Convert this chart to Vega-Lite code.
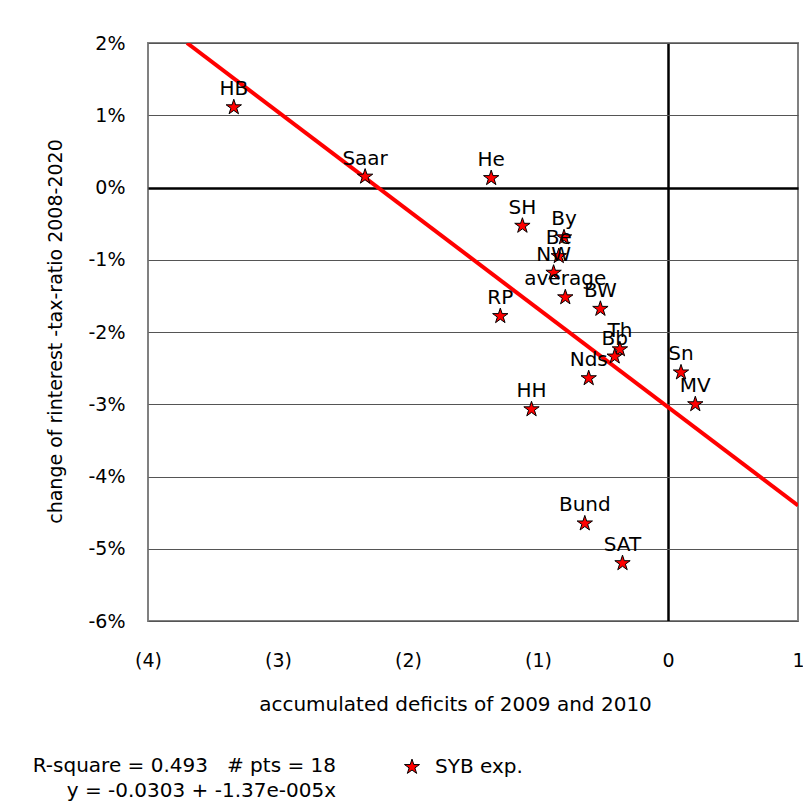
{
  "$schema": "https://vega.github.io/schema/vega-lite/v6.json",
  "width": 650,
  "height": 578,
  "autosize": {"type": "none"},
  "padding": {"left": 148, "top": 43, "right": 5, "bottom": 188},
  "background": "white",
  "config": {
    "font": "DejaVu Sans",
    "view": {"stroke": "#808080", "strokeWidth": 2}
  },
  "title": {
    "text": ["R-square = 0.493\u00a0\u00a0\u00a0# pts = 18", "y = -0.0303 + -1.37e-005x"],
    "orient": "bottom",
    "anchor": "start",
    "frame": "group",
    "align": "right",
    "dx": 188,
    "offset": -21,
    "fontSize": 20,
    "fontWeight": "normal",
    "color": "black",
    "lineHeight": 25,
    "font": "DejaVu Sans"
  },
  "datasets": {
    "states": [
      {"label": "HB", "x": -3.34, "y": 0.0111, "series": "SYB exp."},
      {"label": "Saar", "x": -2.33, "y": 0.0015, "series": "SYB exp."},
      {"label": "He", "x": -1.36, "y": 0.0013, "series": "SYB exp."},
      {"label": "SH", "x": -1.12, "y": -0.0053, "series": "SYB exp."},
      {"label": "By", "x": -0.80, "y": -0.0069, "series": "SYB exp."},
      {"label": "Be", "x": -0.84, "y": -0.0095, "series": "SYB exp."},
      {"label": "NW", "x": -0.88, "y": -0.0118, "series": "SYB exp."},
      {"label": "average", "x": -0.79, "y": -0.0152, "series": "SYB exp."},
      {"label": "BW", "x": -0.52, "y": -0.0168, "series": "SYB exp."},
      {"label": "RP", "x": -1.29, "y": -0.0178, "series": "SYB exp."},
      {"label": "Th", "x": -0.37, "y": -0.0224, "series": "SYB exp."},
      {"label": "Bb", "x": -0.41, "y": -0.0234, "series": "SYB exp."},
      {"label": "Nds", "x": -0.61, "y": -0.0264, "series": "SYB exp."},
      {"label": "Sn", "x": 0.10, "y": -0.0256, "series": "SYB exp."},
      {"label": "MV", "x": 0.21, "y": -0.0300, "series": "SYB exp."},
      {"label": "HH", "x": -1.05, "y": -0.0307, "series": "SYB exp."},
      {"label": "Bund", "x": -0.64, "y": -0.0465, "series": "SYB exp."},
      {"label": "SAT", "x": -0.35, "y": -0.0520, "series": "SYB exp."}
    ],
    "fit": [
      {"x": -3.70, "y": 0.0200},
      {"x": 1.0, "y": -0.0440}
    ]
  },
  "data": {"name": "states"},
  "encoding": {
    "x": {
      "field": "x",
      "type": "quantitative",
      "scale": {"domain": [-4, 1], "nice": false, "zero": false},
      "axis": {
        "values": [-4, -3, -2, -1, 0, 1],
        "labelExpr": "datum.value < 0 ? '(' + format(-datum.value, 'd') + ')' : format(datum.value, 'd')",
        "ticks": false,
        "domain": false,
        "labelFlush": false,
        "labelPadding": 30,
        "labelFontSize": 19,
        "labelColor": "black",
        "labelFont": "DejaVu Sans",
        "grid": true,
        "gridColor": {"condition": {"test": "datum.value === 0", "value": "black"}, "value": "transparent"},
        "gridWidth": 2.5,
        "gridOpacity": 1,
        "title": "accumulated deficits of 2009 and 2010",
        "titleFontSize": 20,
        "titleFontWeight": "normal",
        "titleColor": "black",
        "titleFont": "DejaVu Sans",
        "titleX": 307,
        "titleY": 83,
        "titleBaseline": "middle",
        "titleAlign": "center"
      }
    },
    "y": {
      "field": "y",
      "type": "quantitative",
      "scale": {"domain": [-0.06, 0.02], "nice": false, "zero": false},
      "axis": {
        "values": [-0.06, -0.05, -0.04, -0.03, -0.02, -0.01, 0, 0.01, 0.02],
        "labelExpr": "(datum.value < -0.0001 ? '-' : '') + format(abs(datum.value) * 100, '.0f') + '%'",
        "ticks": false,
        "domain": false,
        "labelPadding": 23,
        "labelFontSize": 19,
        "labelColor": "black",
        "labelFont": "DejaVu Sans",
        "grid": true,
        "gridColor": {"condition": {"test": "abs(datum.value) < 0.0001", "value": "black"}, "value": "#555555"},
        "gridWidth": {"condition": {"test": "abs(datum.value) < 0.0001", "value": 2.5}, "value": 1.2},
        "gridOpacity": 1,
        "title": "change of rinterest -tax-ratio 2008-2020",
        "titleFontSize": 19,
        "titleFontWeight": "normal",
        "titleColor": "black",
        "titleFont": "DejaVu Sans",
        "titleX": -93,
        "titleY": 288,
        "titleAngle": -90,
        "titleBaseline": "middle",
        "titleAlign": "center"
      }
    }
  },
  "layer": [
    {
      "data": {"name": "fit"},
      "mark": {"type": "line", "color": "#ff0000", "strokeWidth": 4, "clip": true},
      "encoding": {}
    },
    {
      "mark": {"type": "point", "filled": true, "stroke": "black", "strokeWidth": 1, "size": 260, "opacity": 1},
      "encoding": {
        "color": {
          "field": "series",
          "type": "nominal",
          "scale": {"domain": ["SYB exp."], "range": ["#ff0000"]},
          "legend": {
            "orient": "none",
            "legendX": 254,
            "legendY": 714,
            "title": null,
            "padding": 0,
            "labelFontSize": 20,
            "labelColor": "black",
            "labelFont": "DejaVu Sans",
            "labelOffset": 13,
            "symbolSize": 250,
            "symbolStrokeColor": "black",
            "symbolStrokeWidth": 1,
            "symbolOpacity": 1,
            "encode": {"symbols": {"update": {"stroke": {"value": "black"}, "strokeWidth": {"value": 1}}}}
          }
        },
        "shape": {
          "field": "series",
          "type": "nominal",
          "scale": {"domain": ["SYB exp."], "range": ["M0,-1L0.225,-0.309L0.951,-0.309L0.363,0.118L0.588,0.809L0,0.382L-0.588,0.809L-0.363,0.118L-0.951,-0.309L-0.225,-0.309Z"]},
          "legend": {
            "orient": "none",
            "legendX": 254,
            "legendY": 714,
            "title": null,
            "padding": 0,
            "labelFontSize": 20,
            "labelColor": "black",
            "labelFont": "DejaVu Sans",
            "labelOffset": 13,
            "symbolSize": 250,
            "symbolStrokeColor": "black",
            "symbolStrokeWidth": 1,
            "symbolOpacity": 1,
            "encode": {"symbols": {"update": {"stroke": {"value": "black"}, "strokeWidth": {"value": 1}}}}
          }
        }
      }
    },
    {
      "mark": {"type": "text", "dy": -18, "fontSize": 20, "font": "DejaVu Sans", "color": "black", "baseline": "middle", "align": "center"},
      "encoding": {"text": {"field": "label", "type": "nominal"}}
    }
  ]
}
